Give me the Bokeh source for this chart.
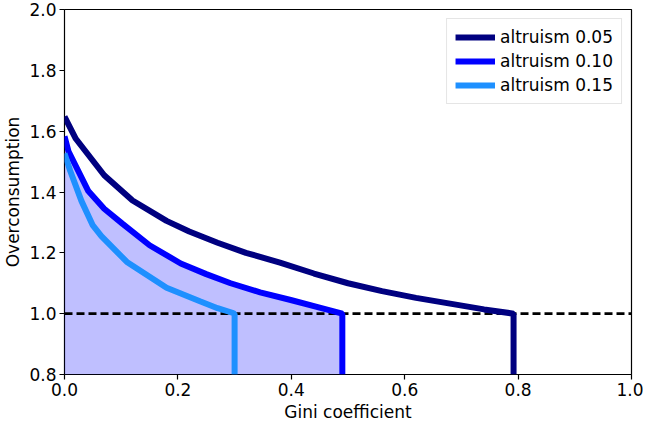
from bokeh.plotting import figure
from bokeh.models import Range1d, FixedTicker, Legend, LegendItem
from bokeh.embed import file_html
from bokeh.resources import INLINE

# Data
gini_005 = [0.0, 0.02, 0.07, 0.12, 0.18, 0.22, 0.27, 0.32, 0.38, 0.44, 0.50, 0.56, 0.62, 0.68, 0.74, 0.792, 0.792]
over_005 = [1.648, 1.575, 1.455, 1.372, 1.305, 1.270, 1.233, 1.200, 1.168, 1.132, 1.100, 1.074, 1.052, 1.033, 1.014, 1.0, 0.8]

gini_010 = [0.0, 0.007, 0.042, 0.07, 0.102, 0.15, 0.205, 0.25, 0.293, 0.345, 0.399, 0.45, 0.49, 0.49]
over_010 = [1.583, 1.534, 1.403, 1.345, 1.296, 1.225, 1.165, 1.130, 1.100, 1.070, 1.045, 1.020, 1.0, 0.8]

gini_015 = [0.0, 0.01, 0.03, 0.05, 0.065, 0.11, 0.18, 0.24, 0.27, 0.296, 0.30, 0.30]
over_015 = [1.527, 1.47, 1.37, 1.29, 1.255, 1.17, 1.085, 1.04, 1.018, 1.003, 1.0, 0.8]

labels = ["altruism 0.05", "altruism 0.10", "altruism 0.15"]
colors = ["#000080", "#0000ff", "#1e90ff"]

x_ticks = [0.0, 0.2, 0.4, 0.6, 0.8, 1.0]
y_ticks = [0.8, 1.0, 1.2, 1.4, 1.6, 1.8, 2.0]
threshold = 1.0
y_floor = 0.8

FONT = "DejaVu Sans"
FS = "17px"

p = figure(width=643, height=424, output_backend="svg", toolbar_location=None,
           x_range=Range1d(0, 1), y_range=Range1d(0.8, 2.0),
           min_border_left=3, min_border_right=12, min_border_top=9, min_border_bottom=2)
p.grid.visible = False
p.outline_line_color = "black"
p.outline_line_width = 1.2
p.background_fill_color = "white"
p.border_fill_color = "white"

for ax in (p.xaxis[0], p.yaxis[0]):
    ax.axis_line_color = None
    ax.major_tick_line_color = "black"
    ax.major_tick_line_width = 1.2
    ax.major_tick_out = 5
    ax.major_tick_in = 0
    ax.minor_tick_line_color = None
    ax.major_label_text_font = FONT
    ax.major_label_text_font_size = FS
    ax.major_label_text_color = "black"
    ax.axis_label_text_font = FONT
    ax.axis_label_text_font_size = FS
    ax.axis_label_text_font_style = "normal"
    ax.axis_label_text_color = "black"

p.xaxis.ticker = FixedTicker(ticks=x_ticks)
p.yaxis.ticker = FixedTicker(ticks=y_ticks)
p.xaxis.major_label_overrides = {t: f"{t:.1f}" for t in x_ticks}
p.yaxis.major_label_overrides = {t: f"{t:.1f}" for t in y_ticks}
p.xaxis.axis_label = "Gini coefficient"
p.yaxis.axis_label = "Overconsumption"
p.xaxis.major_label_standoff = 3
p.yaxis.major_label_standoff = 3
p.xaxis.axis_label_standoff = 3
p.yaxis.axis_label_standoff = 3

# shaded area under altruism 0.10 curve
p.varea(x=gini_010[:-1], y1=[y_floor] * (len(gini_010) - 1), y2=over_010[:-1],
        fill_color="#0000ff", fill_alpha=0.25)

# threshold dashed line
p.line(x=[0, 1], y=[threshold, threshold], line_color="black", line_width=2.6, line_dash="8 4")

r1 = p.line(gini_005, over_005, line_color=colors[0], line_width=6)
r2 = p.line(gini_010, over_010, line_color=colors[1], line_width=6)
r3 = p.line(gini_015, over_015, line_color=colors[2], line_width=6)

legend = Legend(items=[LegendItem(label=labels[0], renderers=[r1]),
                       LegendItem(label=labels[1], renderers=[r2]),
                       LegendItem(label=labels[2], renderers=[r3])],
                location="top_right")
legend.label_text_font = FONT
legend.label_text_font_size = FS
legend.label_text_color = "black"
legend.glyph_width = 40
legend.glyph_height = 20
legend.label_height = 20
legend.spacing = 4
legend.padding = 8
legend.margin = 9
legend.border_line_color = "#cccccc"
legend.border_line_width = 1
legend.background_fill_alpha = 0.8
p.add_layout(legend)

open("out.html", "w").write(file_html(p, INLINE))
